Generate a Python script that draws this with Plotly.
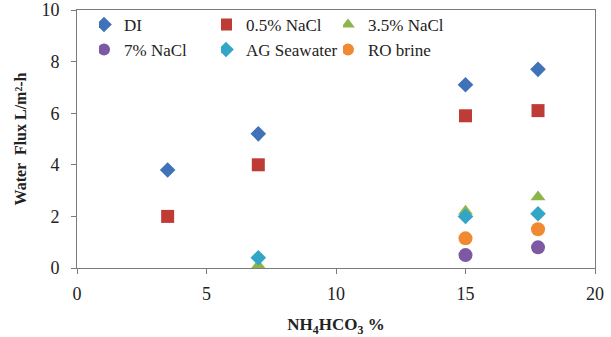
import plotly.graph_objects as go

x_di = [3.5, 7, 15, 17.8]
y_di = [3.8, 5.2, 7.1, 7.7]
x_n05 = [3.5, 7, 15, 17.8]
y_n05 = [2.0, 4.0, 5.9, 6.1]
x_n35 = [7, 15, 17.8]
y_n35 = [0.1, 2.2, 2.75]
x_n7 = [15, 17.8]
y_n7 = [0.5, 0.8]
x_ag = [7, 15, 17.8]
y_ag = [0.4, 2.0, 2.1]
x_ro = [15, 17.8]
y_ro = [1.15, 1.5]

series = [
    ("DI", x_di, y_di, "diamond", "#3F72B8", 12),
    ("0.5% NaCl", x_n05, y_n05, "square", "#BE3B36", 13),
    ("3.5% NaCl", x_n35, y_n35, "triangle-up", "#8DB64A", 13),
    ("7% NaCl", x_n7, y_n7, "circle", "#7D58A3", 14),
    ("AG Seawater", x_ag, y_ag, "diamond", "#33A5C6", 12),
    ("RO brine", x_ro, y_ro, "circle", "#F08A32", 14),
]
# legend slots (column x in plot fraction, row y in plot fraction)
leg_x = [0.0425, 0.278, 0.5135]
leg_y = [0.942, 0.845]

font = "Liberation Serif, Times New Roman, serif"
fig = go.Figure()
layout_legends = {}
for i, (name, xs, ys, sym, col, sz) in enumerate(series):
    key = "legend" if i == 0 else f"legend{i+1}"
    fig.add_trace(go.Scatter(x=xs, y=ys, mode="markers", name=name,
                             marker=dict(symbol=sym, color=col, size=sz),
                             legend=key))
    layout_legends[key] = dict(x=leg_x[i % 3], y=leg_y[i // 3], xanchor="left", yanchor="middle",
                               bgcolor="rgba(0,0,0,0)", borderwidth=0,
                               font=dict(family=font, size=17, color="#222"),
                               itemwidth=30, indentation=-15, itemsizing="constant")

fig.update_layout(
    width=611, height=337,
    margin=dict(l=77, r=16, t=10, b=69, autoexpand=False),
    paper_bgcolor="white", plot_bgcolor="white",
    font=dict(family=font, size=18, color="#222"),
    showlegend=True,
    xaxis=dict(range=[0, 20], dtick=5, showgrid=False, zeroline=False, automargin=False,
               showline=True, linecolor="#7a7a7a", linewidth=1, mirror=True,
               ticks="outside", ticklen=5, tickcolor="#7a7a7a", ticklabelstandoff=4,
               ticklabeloverflow="allow",
               title=dict(text="<b>NH<sub>4</sub>HCO<sub>3</sub> %</b>", font=dict(size=17), standoff=17)),
    yaxis=dict(range=[0, 10], dtick=2, showgrid=False, zeroline=False, automargin=False,
               showline=True, linecolor="#7a7a7a", linewidth=1, mirror=True,
               ticks="outside", ticklen=5, tickcolor="#7a7a7a", ticklabelstandoff=8,
               ticklabeloverflow="allow",
               title=dict(text="<b>Water  Flux L/m²-h</b>", font=dict(size=16), standoff=10)),
    **layout_legends,
)
fig.write_html("out.html", config={"displayModeBar": False},
               post_script="document.body.style.margin='0';")
